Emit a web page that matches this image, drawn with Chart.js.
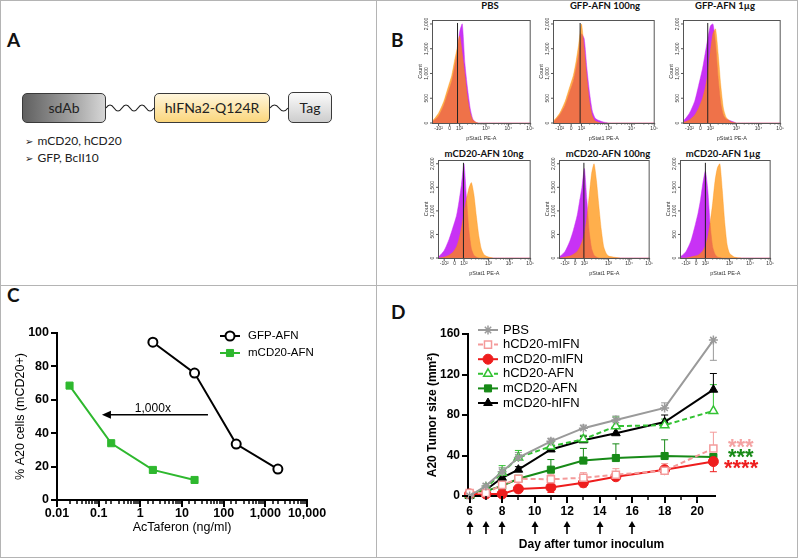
<!DOCTYPE html>
<html>
<head>
<meta charset="utf-8">
<script src="https://cdn.jsdelivr.net/npm/chart.js@4.4.0/dist/chart.umd.min.js"></script>
<style>
  body { margin: 0; background: #fff; width: 798px; height: 559px; overflow: hidden; position: relative; font-family: 'Liberation Sans', Arial, sans-serif; }
  canvas { position: absolute; }
  .line { position: absolute; background: #b4b4b4; }
  .letter { position: absolute; font: bold 19px Lato, sans-serif; line-height: 20px; color: #111; }
  .box { position: absolute; box-sizing: border-box; border: 1px solid #3a3a3a; border-radius: 5px; text-align: center; font: 14px Lato, sans-serif; color: #222; }
  .bullets { position: absolute; left: 25px; top: 133px; font: 12px Lato, sans-serif; line-height: 16.6px; color: #222; }
  .bullets span { font: 10px 'DejaVu Sans', sans-serif; margin-right: 4px; }
  .htitle { position: absolute; font: bold 9.5px Lato, sans-serif; line-height: 10px; transform: translateX(-50%); white-space: nowrap; color: #111; }
  .stars { position: absolute; font: bold 22px 'Liberation Sans', Arial, sans-serif; line-height: 22px; white-space: nowrap; }
</style>
</head>
<body>
<!-- frame -->
<div class="line" style="left:0;top:0;width:798px;height:1px"></div>
<div class="line" style="left:0;top:557px;width:798px;height:1px"></div>
<div class="line" style="left:0;top:0;width:1px;height:558px"></div>
<div class="line" style="left:797px;top:0;width:1px;height:558px"></div>
<div class="line" style="left:376px;top:0;width:1px;height:558px"></div>
<div class="line" style="left:0;top:285px;width:798px;height:1px"></div>

<!-- A -->
<div class="letter" style="left:7px;top:30px">A</div>
<div class="box" style="left:22px;top:93px;width:84px;height:30px;line-height:28px;background:linear-gradient(to right,#606060,#9c9c9c 55%,#d6d6d6)">sdAb</div>
<div class="box" style="left:154px;top:93px;width:116px;height:30px;line-height:28px;background:linear-gradient(to bottom,#fff6dc,#fbd67c)">hIFNa2-Q124R</div>
<div class="box" style="left:288px;top:92px;width:44px;height:31px;line-height:29px;background:linear-gradient(to bottom,#fbfbfb,#cdcdcd)">Tag</div>
<svg style="position:absolute;left:0;top:0" width="376" height="200">
  <path d="M106 108 q4 -6 8 0 t8 0 t8 0 t8 0 t8 0 t8 0" fill="none" stroke="#222" stroke-width="1.2"/>
  <path d="M270 108 q4.5 -6 9 0 t9 0" fill="none" stroke="#222" stroke-width="1.2"/>
</svg>
<div class="bullets"><div><span>&#10146;</span>mCD20, hCD20</div><div><span>&#10146;</span>GFP, BcII10</div></div>

<!-- B -->
<div class="letter" style="left:391px;top:30px">B</div>
<div class="htitle" style="left:490px;top:1px">PBS</div>
<div class="htitle" style="left:605px;top:1px">GFP-AFN 100ng</div>
<div class="htitle" style="left:725px;top:1px">GFP-AFN 1µg</div>
<div class="htitle" style="left:484px;top:149px">mCD20-AFN 10ng</div>
<div class="htitle" style="left:608px;top:149px">mCD20-AFN 100ng</div>
<div class="htitle" style="left:723px;top:149px">mCD20-AFN 1µg</div>
<canvas id="h1"></canvas><canvas id="h2"></canvas><canvas id="h3"></canvas>
<canvas id="h4"></canvas><canvas id="h5"></canvas><canvas id="h6"></canvas>

<!-- C -->
<div class="letter" style="left:7px;top:285px">C</div>
<canvas id="chartC" width="376" height="257" style="left:0;top:300px"></canvas>

<!-- D -->
<div class="letter" style="left:391px;top:302px">D</div>
<canvas id="chartD" width="398" height="257" style="left:400px;top:300px"></canvas>
<div class="stars" style="left:728px;top:436px;color:#f4a3a3">***</div>
<div class="stars" style="left:728px;top:446px;color:#178a17">***</div>
<div class="stars" style="left:724px;top:457px;color:#ee1d1d">****</div>

<script>
// ---- panel B: flow histograms (% of max count per bin) ----
const binX = [-1.2, -1.0, -0.8, -0.6, -0.45, -0.3, -0.2, -0.1, 0, 0.1, 0.2, 0.3, 0.4, 0.5, 0.6, 0.7, 0.8, 0.9, 1.0, 1.2, 1.5, 3.0];
const histXTicks = [-0.8, -0.38, 0, 1, 1.85, 2.68];
const histXLabels = ['-10²', '0', '10²', '10³', '10⁴', '10⁵'];
const histYTicks = [0, 25, 50, 75, 100];
const histYLabels = ['0', '500', '1,000', '1,500', '2,000'];

const pbsCtrl    = [0, 2, 7, 18, 30, 42, 55, 70, 92, 100, 60, 35, 15, 4, 1, 0, 0, 0, 0, 0, 0, 0];
const pbsStim    = [0, 3, 10, 22, 35, 48, 62, 75, 88, 70, 48, 25, 10, 3, 1, 0, 0, 0, 0, 0, 0, 0];
const gfp100Ctrl = [0, 2, 8, 18, 30, 42, 55, 70, 90, 85, 55, 30, 12, 5, 3, 2, 1, 0.5, 0, 0, 0, 0];
const gfp100Stim = [0, 3, 10, 22, 35, 48, 62, 80, 100, 75, 45, 20, 7, 2, 1, 0, 0, 0, 0, 0, 0, 0];
const gfp1Ctrl   = [0, 3, 10, 22, 38, 55, 70, 85, 98, 100, 80, 45, 20, 8, 4, 3, 2, 1, 0, 0, 0, 0];
const gfp1Stim   = [0, 1, 3, 8, 15, 25, 35, 50, 72, 90, 95, 70, 38, 15, 6, 3, 1, 0.5, 0, 0, 0, 0];
const m10Ctrl    = [0, 2, 8, 20, 32, 45, 60, 78, 100, 65, 30, 10, 3, 1, 0, 0, 0, 0, 0, 0, 0, 0];
const m10Stim    = [0, 0, 1, 3, 6, 12, 20, 32, 48, 62, 74, 80, 68, 45, 24, 10, 4, 2, 1, 0, 0, 0];
const m100Ctrl   = [0, 2, 7, 18, 30, 45, 60, 75, 95, 62, 28, 10, 3, 1, 0, 0, 0, 0, 0, 0, 0, 0];
const m100Stim   = [0, 0, 1, 2, 4, 7, 11, 17, 26, 42, 66, 90, 100, 82, 55, 30, 12, 5, 2, 1, 0, 0];
const m1Ctrl     = [0, 2, 7, 18, 32, 48, 62, 80, 92, 72, 35, 12, 4, 1, 0.5, 0, 0, 0, 0, 0, 0, 0];
const m1Stim     = [0, 0, 0, 1, 2, 3, 5, 8, 13, 22, 38, 58, 82, 96, 100, 72, 38, 14, 5, 1, 0, 0];
const gates = [-0.08, -0.05, -0.1, -0.02, -0.02, 0];

// ---- panel C ----
const gfpDose = [2, 20, 200, 2000];
const gfpPct = [94.5, 76, 33.5, 18.5];
const mcdDose = [0.02, 0.2, 2, 20];
const mcdPct = [68.5, 34, 18, 12];
const doseTicks = [0.01, 0.1, 1, 10, 100, 1000, 10000];
const doseTickLabels = ['0.01', '0.1', '1', '10', '100', '1,000', '10,000'];
const foldArrow = { from: 42, to: 0.12, y: 51, label: '1,000x', labelX: 2 };

// ---- panel D ----
const days = [6, 7, 8, 9, 11, 13, 15, 18, 21];
const pbs       = [0, 10, 24, 38, 54, 67, 75, 87, 154];
const hcdMifn   = [3, 3, 11, 17, 16.5, 18, 21, 25, 47];
const mcdMifn   = [2, 2, 2, 7, 8.5, 13, 19, 26, 34];
const hcdAfn    = [1, 8, 23, 38, 49, 56, 69, 70, 84];
const mcdAfn    = [1, 5, 10, 17, 26, 35, 37.5, 39.5, 38.5];
const mcdHifn   = [0, 6, 18, 26, 46, 55, 62, 73, 105];
// SEM (negative = bar drawn below the mean)
const pbsErr     = [0, 2, 4, 5, 3, 3, 4, 5, -20];
const hcdMifnErr = [0, 1, 3, 3, 5, 5, 6, 7, 16];
const mcdMifnErr = [0, 1, 1, 2, -5, -4, 2, 3, -10];
const hcdAfnErr  = [0, 2, 7, 7, 4, 4, 9, 6, 26];
const mcdAfnErr  = [0, 2, 3, 3, 10, 12, 14, 16, 3];
const mcdHifnErr = [0, 2, 3, 3, 3, 4, 5, 7, 16];
const dayTicks = [6, 7, 8, 9, 10, 11, 12, 13, 14, 15, 16, 17, 18, 19, 20];
const sizeTicks = [0, 40, 80, 120, 160];
const injectDays = [6, 7, 8, 10, 12, 14, 16];

Chart.defaults.font.family = "'Liberation Sans', Arial, sans-serif";
Chart.defaults.color = '#000';

const pts = (xs, ys) => xs.map((x, i) => ({ x: x, y: ys[i] }));
const near = (a, b) => Math.abs(a - b) < 1e-6 * Math.max(1, Math.abs(b));

// frame + rotated y labels for the histograms
const histFrame = {
  id: 'histFrame',
  afterDraw(chart) {
    const ctx = chart.ctx, a = chart.chartArea, ys = chart.scales.y, xs = chart.scales.x;
    ctx.save();
    ctx.strokeStyle = '#555';
    ctx.lineWidth = 1;
    ctx.strokeRect(a.left + 0.5, a.top + 0.5, a.right - a.left - 1, a.bottom - a.top);
    ctx.fillStyle = '#333';
    ctx.font = '5px Liberation Sans';
    ctx.textAlign = 'center';
    ctx.textBaseline = 'bottom';
    histYTicks.forEach((v, i) => {
      const py = ys.getPixelForValue(v);
      ctx.beginPath(); ctx.moveTo(a.left - 2, py); ctx.lineTo(a.left, py); ctx.stroke();
      ctx.save();
      ctx.translate(a.left - 2.5, py);
      ctx.rotate(-Math.PI / 2);
      ctx.fillText(histYLabels[i], 0, 0);
      ctx.restore();
    });
    // minor log ticks along x
    for (let d = 0; d < 3; d++) {
      for (let k = 2; k < 10; k++) {
        const v = d + Math.log10(k);
        if (v > xs.max) continue;
        const px = xs.getPixelForValue(v);
        ctx.beginPath(); ctx.moveTo(px, a.bottom); ctx.lineTo(px, a.bottom + 1.5); ctx.stroke();
      }
    }
    histXTicks.forEach(v => {
      const px = xs.getPixelForValue(v);
      ctx.beginPath(); ctx.moveTo(px, a.bottom); ctx.lineTo(px, a.bottom + 3); ctx.stroke();
    });
    ctx.restore();
  }
};

function histChart(id, box, ctrl, stim, gate) {
  const cv = document.getElementById(id);
  const yW = 15, xH = 21;
  cv.width = box.r - box.l + yW + 4;
  cv.height = box.b - box.t + xH + 3;
  cv.style.left = (box.l - yW) + 'px';
  cv.style.top = (box.t - 3) + 'px';
  new Chart(cv, {
    type: 'line',
    data: {
      datasets: [
        { data: [{ x: gate, y: 0 }, { x: gate, y: 101 }], borderColor: '#222', borderWidth: 1, pointRadius: 0, fill: false },
        { data: pts(binX, stim), borderColor: 'rgba(255,141,0,0.7)', backgroundColor: 'rgba(255,141,0,0.7)', borderWidth: 0.5, pointRadius: 0, fill: 'origin', tension: 0.2 },
        { data: pts(binX, ctrl), borderColor: 'rgb(200,50,245)', backgroundColor: 'rgb(200,50,245)', borderWidth: 0.5, pointRadius: 0, fill: 'origin', tension: 0.2 }
      ]
    },
    options: {
      responsive: false, animation: false, events: [],
      layout: { padding: { top: 3, right: 4, left: 0, bottom: 0 } },
      plugins: { legend: { display: false }, tooltip: { enabled: false } },
      scales: {
        x: {
          type: 'linear', min: -1.05, max: 2.7,
          afterFit: s => { s.height = xH; },
          afterBuildTicks: s => { s.ticks = histXTicks.map(v => ({ value: v })); },
          grid: { display: false, drawTicks: false },
          border: { color: '#555', width: 1 },
          ticks: { padding: 3, autoSkip: false, maxRotation: 0, color: '#333', font: { size: 5 }, callback: (v, i) => histXLabels[i] },
          title: { display: true, text: 'pStat1 PE-A', color: '#333', font: { size: 5.5 }, padding: { top: 0, bottom: 2 } }
        },
        y: {
          min: 0, max: 104,
          afterFit: s => { s.width = yW; },
          grid: { display: false, drawTicks: false },
          border: { color: '#555', width: 1 },
          ticks: { display: false },
          title: { display: true, text: 'Count', color: '#333', font: { size: 5.5 }, padding: { top: 0, bottom: 0 } }
        }
      }
    },
    plugins: [histFrame]
  });
}

histChart('h1', { l: 432, r: 533, t: 20, b: 123 }, pbsCtrl, pbsStim, gates[0]);
histChart('h2', { l: 553, r: 657, t: 20, b: 123 }, gfp100Ctrl, gfp100Stim, gates[1]);
histChart('h3', { l: 683, r: 783, t: 20, b: 123 }, gfp1Ctrl, gfp1Stim, gates[2]);
histChart('h4', { l: 438, r: 533, t: 160, b: 258 }, m10Ctrl, m10Stim, gates[3]);
histChart('h5', { l: 559, r: 652, t: 160, b: 258 }, m100Ctrl, m100Stim, gates[4]);
histChart('h6', { l: 680, r: 773, t: 160, b: 258 }, m1Ctrl, m1Stim, gates[5]);

// outward tick marks, long for major, short for minor
const axisTicks = {
  id: 'axisTicks',
  afterDraw(chart, args, opts) {
    const ctx = chart.ctx, a = chart.chartArea;
    const xs = chart.scales.x, ys = chart.scales.y;
    ctx.save();
    ctx.strokeStyle = '#000';
    xs.ticks.forEach(t => {
      const major = opts.xMajor(t.value);
      const px = Math.round(xs.getPixelForValue(t.value));
      ctx.lineWidth = major ? 2 : 1.5;
      ctx.beginPath(); ctx.moveTo(px, a.bottom); ctx.lineTo(px, a.bottom + (major ? 7 : 4)); ctx.stroke();
    });
    ys.ticks.forEach(t => {
      const py = Math.round(ys.getPixelForValue(t.value));
      ctx.lineWidth = 2;
      ctx.beginPath(); ctx.moveTo(a.left, py); ctx.lineTo(a.left - 6, py); ctx.stroke();
    });
    ctx.restore();
  }
};

// legend drawn as line + marker + label
const seriesLegend = {
  id: 'seriesLegend',
  afterDraw(chart, args, opts) {
    const ctx = chart.ctx;
    ctx.save();
    chart.data.datasets.forEach((ds, i) => {
      const y = opts.y + i * opts.rowGap;
      ctx.strokeStyle = ds.borderColor;
      ctx.lineWidth = ds.borderWidth;
      ctx.setLineDash(ds.borderDash || []);
      ctx.beginPath(); ctx.moveTo(opts.x, y); ctx.lineTo(opts.x + opts.len, y); ctx.stroke();
      ctx.setLineDash([]);
      ctx.fillStyle = ds.pointBackgroundColor;
      ctx.strokeStyle = ds.pointBorderColor;
      ctx.lineWidth = ds.pointBorderWidth;
      Chart.helpers.drawPoint(ctx, { pointStyle: ds.pointStyle, radius: ds.pointRadius, rotation: 0, borderWidth: ds.pointBorderWidth }, opts.x + opts.len / 2, y);
      ctx.fillStyle = '#000';
      ctx.font = opts.font;
      ctx.textBaseline = 'middle';
      ctx.textAlign = 'left';
      ctx.fillText(ds.label, opts.x + opts.len + opts.gap, y);
    });
    ctx.restore();
  }
};

// fold-shift arrow for panel C
const shiftArrow = {
  id: 'shiftArrow',
  afterDraw(chart) {
    const ctx = chart.ctx, xs = chart.scales.x, ys = chart.scales.y;
    const x1 = xs.getPixelForValue(foldArrow.from), x2 = xs.getPixelForValue(foldArrow.to);
    const y = ys.getPixelForValue(foldArrow.y);
    ctx.save();
    ctx.strokeStyle = '#000'; ctx.fillStyle = '#000'; ctx.lineWidth = 1.5;
    ctx.beginPath(); ctx.moveTo(x1, y); ctx.lineTo(x2 + 6, y); ctx.stroke();
    ctx.beginPath(); ctx.moveTo(x2, y); ctx.lineTo(x2 + 9, y - 4); ctx.lineTo(x2 + 9, y + 4); ctx.closePath(); ctx.fill();
    ctx.font = '12px Liberation Sans';
    ctx.textAlign = 'center'; ctx.textBaseline = 'alphabetic';
    ctx.fillText(foldArrow.label, xs.getPixelForValue(foldArrow.labelX), y - 3);
    ctx.restore();
  }
};

new Chart(document.getElementById('chartC'), {
  type: 'line',
  data: {
    datasets: [
      { label: 'GFP-AFN', data: pts(gfpDose, gfpPct), borderColor: '#000', borderWidth: 2,
        pointStyle: 'circle', pointRadius: 4.5, pointBorderWidth: 2, pointBackgroundColor: '#fff', pointBorderColor: '#000', clip: false },
      { label: 'mCD20-AFN', data: pts(mcdDose, mcdPct), borderColor: '#2eb82e', borderWidth: 2,
        pointStyle: 'rect', pointRadius: 5, pointBorderWidth: 1, pointBackgroundColor: '#2eb82e', pointBorderColor: '#2eb82e', clip: false }
    ]
  },
  options: {
    responsive: false, animation: false, events: [],
    layout: { padding: { top: 33, right: 69, left: 0, bottom: 0 } },
    plugins: {
      legend: { display: false }, tooltip: { enabled: false },
      axisTicks: { xMajor: v => doseTicks.some(d => near(v, d)) },
      seriesLegend: { x: 220, y: 36, rowGap: 17, len: 20, gap: 8, font: '11.5px Liberation Sans' }
    },
    scales: {
      x: {
        type: 'logarithmic', min: 0.01, max: 10000,
        afterFit: s => { s.height = 57; },
        grid: { display: false, drawTicks: false },
        border: { color: '#000', width: 2 },
        ticks: { autoSkip: false, maxRotation: 0, padding: 6, font: { size: 12.5, weight: 'bold' },
          callback: v => { const i = doseTicks.findIndex(d => near(v, d)); return i < 0 ? '' : doseTickLabels[i]; } },
        title: { display: true, text: 'AcTaferon (ng/ml)', font: { size: 12.5 }, padding: { top: 0, bottom: 22 } }
      },
      y: {
        min: 0, max: 100,
        afterFit: s => { s.width = 57; },
        grid: { display: false, drawTicks: false },
        border: { color: '#000', width: 2 },
        ticks: { stepSize: 20, padding: 8, font: { size: 12.5, weight: 'bold' } },
        title: { display: true, text: '% A20 cells (mCD20+)', font: { size: 12.5 }, padding: { top: 13, bottom: 0 } }
      }
    }
  },
  plugins: [axisTicks, seriesLegend, shiftArrow]
});

// error bars and injection arrows for panel D
const errorBars = {
  id: 'errorBars',
  beforeDatasetsDraw(chart) {
    const ctx = chart.ctx, ys = chart.scales.y;
    chart.data.datasets.forEach((ds, i) => {
      const meta = chart.getDatasetMeta(i);
      ctx.save();
      ctx.strokeStyle = ds.borderColor;
      ctx.lineWidth = 1;
      meta.data.forEach((pt, j) => {
        const e = ds.errors[j];
        if (!e) return;
        const y2 = ys.getPixelForValue(ds.data[j].y + e);
        ctx.beginPath();
        ctx.moveTo(pt.x, pt.y); ctx.lineTo(pt.x, y2);
        ctx.moveTo(pt.x - 3.5, y2); ctx.lineTo(pt.x + 3.5, y2);
        ctx.stroke();
      });
      ctx.restore();
    });
  }
};
const injections = {
  id: 'injections',
  afterDraw(chart) {
    const ctx = chart.ctx, xs = chart.scales.x, a = chart.chartArea;
    ctx.save();
    ctx.strokeStyle = '#000'; ctx.fillStyle = '#000'; ctx.lineWidth = 1.6;
    injectDays.forEach(d => {
      const px = Math.round(xs.getPixelForValue(d));
      const top = a.bottom + 25, bot = a.bottom + 38;
      ctx.beginPath(); ctx.moveTo(px, bot); ctx.lineTo(px, top + 4); ctx.stroke();
      ctx.beginPath(); ctx.moveTo(px, top); ctx.lineTo(px - 3.5, top + 6); ctx.lineTo(px + 3.5, top + 6); ctx.closePath(); ctx.fill();
    });
    ctx.restore();
  }
};

function series(label, ys, err, color, style, open, dashed) {
  return {
    label: label, data: pts(days, ys), errors: err,
    borderColor: color, borderWidth: 2, borderDash: dashed ? [5, 3] : [],
    pointStyle: style, pointRadius: style === 'star' ? 4.5 : 5,
    pointBorderWidth: open || style === 'star' ? 1.5 : 1,
    pointBackgroundColor: open ? '#fff' : color, pointBorderColor: color,
    clip: false
  };
}

new Chart(document.getElementById('chartD'), {
  type: 'line',
  data: {
    datasets: [
      series('PBS', pbs, pbsErr, '#9a9a9a', 'star', false, false),
      series('hCD20-mIFN', hcdMifn, hcdMifnErr, '#f49a9a', 'rect', true, true),
      series('mCD20-mIFN', mcdMifn, mcdMifnErr, '#ee1d1d', 'circle', false, false),
      series('hCD20-AFN', hcdAfn, hcdAfnErr, '#33c233', 'triangle', true, true),
      series('mCD20-AFN', mcdAfn, mcdAfnErr, '#178a17', 'rect', false, false),
      series('mCD20-hIFN', mcdHifn, mcdHifnErr, '#000000', 'triangle', false, false)
    ]
  },
  options: {
    responsive: false, animation: false, events: [],
    layout: { padding: { top: 34, right: 83, left: 0, bottom: 0 } },
    plugins: {
      legend: { display: false }, tooltip: { enabled: false },
      axisTicks: { xMajor: v => v % 2 === 0 },
      seriesLegend: { x: 78, y: 30, rowGap: 14.6, len: 20, gap: 5, font: '13px Liberation Sans' }
    },
    scales: {
      x: {
        type: 'linear', min: 5.9, max: 21.1,
        afterFit: s => { s.height = 61; },
        afterBuildTicks: s => { s.ticks = dayTicks.map(v => ({ value: v })); },
        grid: { display: false, drawTicks: false },
        border: { color: '#000', width: 2 },
        ticks: { autoSkip: false, maxRotation: 0, padding: 8, font: { size: 12, weight: 'bold' },
          callback: v => (v % 2 === 0 ? String(v) : '') },
        title: { display: true, text: 'Day after tumor inoculum', font: { size: 12, weight: 'bold' }, padding: { top: 0, bottom: 5 } }
      },
      y: {
        min: 0, max: 160,
        afterFit: s => { s.width = 68; },
        afterBuildTicks: s => { s.ticks = sizeTicks.map(v => ({ value: v })); },
        grid: { display: false, drawTicks: false },
        border: { color: '#000', width: 2 },
        ticks: { padding: 8, font: { size: 12, weight: 'bold' } },
        title: { display: true, text: 'A20 Tumor size (mm²)', font: { size: 12, weight: 'bold' }, padding: { top: 25, bottom: 0 } }
      }
    }
  },
  plugins: [errorBars, axisTicks, seriesLegend, injections]
});
</script>
</body>
</html>
